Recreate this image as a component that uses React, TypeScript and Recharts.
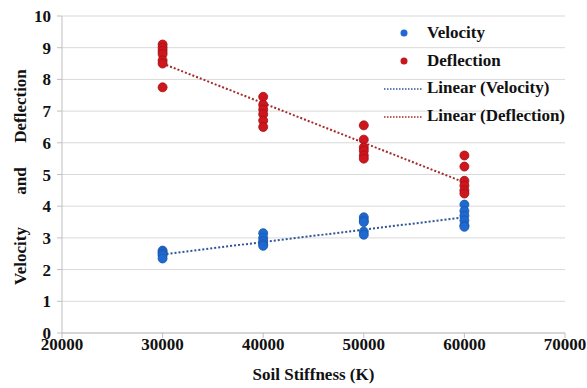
import { ComposedChart, Scatter, XAxis, YAxis, CartesianGrid } from "recharts"

const stiffness = [30000, 40000, 50000, 60000]

const velocityValues = [
  [2.6, 2.55, 2.5, 2.45, 2.35],
  [3.15, 3.0, 2.9, 2.8, 2.75],
  [3.65, 3.55, 3.5, 3.2, 3.1],
  [4.05, 3.85, 3.7, 3.55, 3.4, 3.35],
]

const deflectionValues = [
  [9.1, 9.0, 8.9, 8.8, 8.6, 8.5, 7.75],
  [7.45, 7.2, 7.05, 6.9, 6.7, 6.5],
  [6.55, 6.1, 5.85, 5.75, 5.6, 5.5],
  [5.6, 5.25, 4.8, 4.65, 4.5, 4.4],
]

// trendline ends
const velocityTrend = [
  { x: 30000, y: 2.48 },
  { x: 60000, y: 3.65 },
]
const deflectionTrend = [
  { x: 30000, y: 8.5 },
  { x: 60000, y: 4.75 },
]

const xTicks = [20000, 30000, 40000, 50000, 60000, 70000]
const yTicks = [0, 1, 2, 3, 4, 5, 6, 7, 8, 9, 10]

const toPoints = (groups: number[][]) =>
  groups.flatMap((vals, i) => vals.map((v) => ({ x: stiffness[i], y: v })))

const velocityData = toPoints(velocityValues)
const deflectionData = toPoints(deflectionValues)

const FONT = "'Times New Roman', 'Liberation Serif', 'DejaVu Serif', serif"

const Dot = (fill: string, stroke: string) => (props: any) => (
  <circle cx={props.cx} cy={props.cy} r={4.5} fill={fill} stroke={stroke} strokeWidth={0.8} />
)

const legendItems = [
  { label: "Velocity", type: "dot", color: "#1f6ad2" },
  { label: "Deflection", type: "dot", color: "#c8161d" },
  { label: "Linear (Velocity)", type: "line", color: "#2f5597" },
  { label: "Linear (Deflection)", type: "line", color: "#a52a2a" },
]

const YLabel = () => (
  <g style={{ fontFamily: FONT, fontWeight: "bold", fontSize: 17 }} fill="#111">
    <text x={22} y={256} transform="rotate(-90 22 256)" textAnchor="middle" dominantBaseline="middle">Velocity</text>
    <text x={22} y={181} transform="rotate(-90 22 181)" textAnchor="middle" dominantBaseline="middle">and</text>
    <text x={22} y={106} transform="rotate(-90 22 106)" textAnchor="middle" dominantBaseline="middle">Deflection</text>
  </g>
)

export default function App() {
  const tickStyle = { fontFamily: FONT, fontWeight: "bold", fontSize: 17, fill: "#111" }
  return (
    <div style={{ position: "absolute", left: 0, top: 0, width: 587, height: 388, background: "#fff", fontFamily: FONT }}>
      <ComposedChart width={587} height={388} margin={{ top: 16, right: 22, bottom: 0, left: 0 }} style={{ fontFamily: FONT }}>
        <CartesianGrid vertical={false} stroke="#d9d9d9" />
        <XAxis
          type="number"
          dataKey="x"
          domain={[20000, 70000]}
          ticks={xTicks}
          interval={0}
          height={55}
          tick={tickStyle}
          stroke="#bfbfbf"
          tickSize={5}
          tickMargin={0}
          label={{ value: "Soil Stiffness (K)", position: "insideBottom", offset: 8, style: tickStyle }}
        />
        <YAxis
          type="number"
          dataKey="y"
          domain={[0, 10]}
          ticks={yTicks}
          interval={0}
          width={62}
          tick={tickStyle}
          stroke="#bfbfbf"
          tickSize={5}
          tickMargin={6}
          label={<YLabel />}
        />
        <Scatter data={velocityTrend} line={{ stroke: "#2f5597", strokeWidth: 2, strokeDasharray: "2 2" }} shape={() => null} isAnimationActive={false} legendType="none" />
        <Scatter data={deflectionTrend} line={{ stroke: "#a52a2a", strokeWidth: 2, strokeDasharray: "2 2" }} shape={() => null} isAnimationActive={false} legendType="none" />
        <Scatter data={velocityData} shape={Dot("#1f6ad2", "#1a56a8")} isAnimationActive={false} />
        <Scatter data={deflectionData} shape={Dot("#d0161d", "#a01015")} isAnimationActive={false} />
      </ComposedChart>
      <div style={{ position: "absolute", left: 384, top: 19, fontFamily: FONT, fontWeight: "bold", fontSize: 17, color: "#111" }}>
        {legendItems.map((it) => (
          <div key={it.label} style={{ display: "flex", alignItems: "center", height: 27.7, whiteSpace: "nowrap" }}>
            <svg width={40} height={12}>
              {it.type === "dot" ? (
                <circle cx={20} cy={6} r={3.5} fill={it.color} />
              ) : (
                <line x1={0} x2={38} y1={7} y2={7} stroke={it.color} strokeWidth={1.5} strokeDasharray="1.5 1.5" />
              )}
            </svg>
            <span style={{ marginLeft: 3 }}>{it.label}</span>
          </div>
        ))}
      </div>
    </div>
  )
}
